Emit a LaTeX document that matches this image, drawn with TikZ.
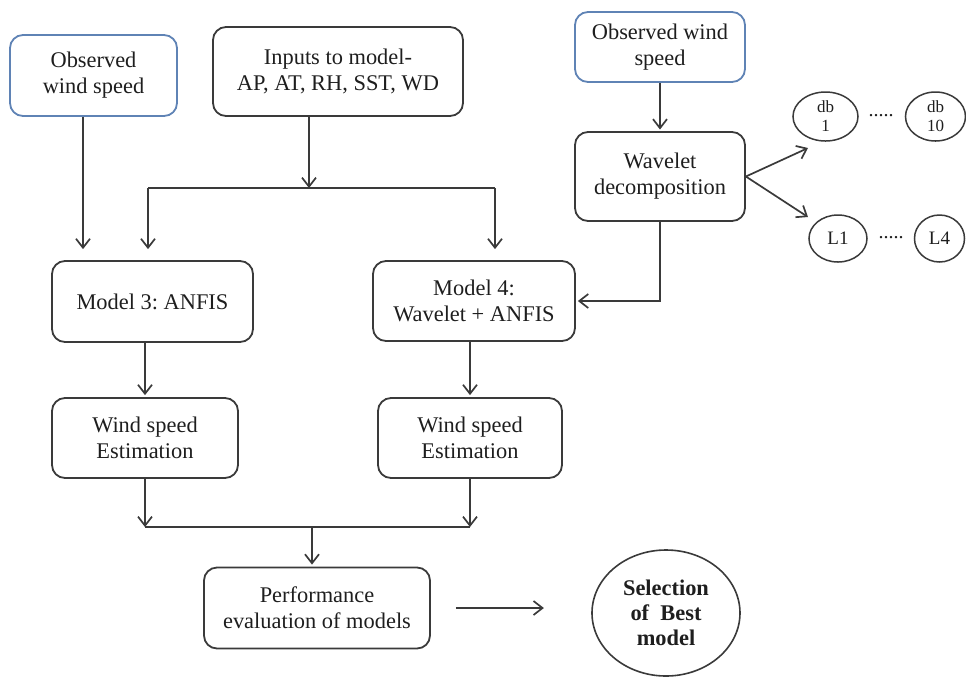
\documentclass[tikz,border=0pt]{standalone}
\usepackage{fontspec}
\setmainfont{Liberation Serif}
\frenchspacing
\usetikzlibrary{arrows.meta,shapes.geometric}
\definecolor{boxline}{HTML}{3A3A3A}
\definecolor{obsline}{HTML}{5F83B5}
\definecolor{ink}{HTML}{1E1E1E}
\begin{document}
\begin{tikzpicture}[x=0.5pt,y=-0.5pt,
  every node/.style={text=ink},
  txt/.style={font=\fontsize{11.2}{13}\selectfont, align=center},
  procbox/.style={txt, draw=boxline, line width=0.9pt, rounded corners=6.5pt, inner sep=0pt},
  obsbox/.style={procbox, draw=obsline},
  leaf/.style={ellipse, draw=boxline, line width=0.75pt, inner sep=0pt, align=center},
  conn/.style={draw=boxline, line width=0.85pt},
  arr/.style={conn, -{Straight Barb[length=4.5pt,width=7pt,line width=0.85pt]}},
]
\useasboundingbox (0,0) rectangle (966,677);

% boxes
\node[obsbox, minimum width=83.5pt, minimum height=40.5pt] (obs1) at (93.5,75.5) {Observed\\wind speed};
\node[procbox, minimum width=125pt, minimum height=44.5pt] (inputs) at (338,71.5) {Inputs to model-\\AP, AT, RH, SST, WD};
\node[obsbox, minimum width=85pt, minimum height=35pt] (obs2) at (660,47) {Observed wind\\speed};
\node[procbox, minimum width=85pt, minimum height=44.5pt] (wave) at (660,176.5) {Wavelet\\decomposition};
\node[procbox, minimum width=100.5pt, minimum height=40.5pt] (m3) at (152.5,301.5) {Model 3: ANFIS};
\node[procbox, minimum width=101pt, minimum height=40pt] (m4) at (474,301) {Model 4:\\Wavelet + ANFIS};
\node[procbox, minimum width=93pt, minimum height=40pt] (wse1) at (145,438) {Wind speed\\Estimation};
\node[procbox, minimum width=92pt, minimum height=40pt] (wse2) at (470,438) {Wind speed\\Estimation};
\node[procbox, minimum width=113pt, minimum height=40.5pt] (perf) at (317,608) {Performance\\evaluation of models};
\node[leaf, line width=0.8pt, minimum width=74pt, minimum height=63pt,
      font=\fontsize{11.2}{12.6}\selectfont\bfseries] (sel) at (666,613) {Selection\\of~~Best\\model};

% wavelet families
\node[leaf, minimum width=32.5pt, minimum height=24.5pt, font=\fontsize{8.5}{9.5}\selectfont] (db1) at (825.5,116.5) {db\\1};
\node[leaf, minimum width=30pt, minimum height=24.5pt, font=\fontsize{8.5}{9.5}\selectfont] (db10) at (935.5,116.5) {db\\10};
\node[leaf, minimum width=29pt, minimum height=23.5pt, font=\fontsize{9.5}{11}\selectfont] (l1) at (838,238.5) {L1};
\node[leaf, minimum width=25pt, minimum height=23.5pt, font=\fontsize{9.5}{11}\selectfont] (l4) at (939.5,238.5) {L4};
\node[font=\fontsize{10}{11}\selectfont] (dotsA) at (881,116) {.....};
\node[font=\fontsize{10}{11}\selectfont] (dotsB) at (891,238) {.....};

% junctions and free ends
\coordinate (jin) at (309,188);
\coordinate (bl) at (148,188);
\coordinate (br) at (495,188);
\coordinate (jout) at (312,527);
\coordinate (tipdb) at (808,148);
\coordinate (tipl) at (808,217);

% top-left feed into model 3
\draw[arr, shorten >=5.5pt] ([xshift=-5.25pt]obs1.south) -- ([xshift=-5.25pt]obs1.south |- m3.north);

% inputs split to both models
\draw[arr] (inputs.south -| jin) -- (jin);
\draw[conn] (bl) -- (br);
\draw[arr, shorten >=5.5pt] (bl) -- (bl |- m3.north);
\draw[arr, shorten >=5.5pt] (br) -- (br |- m4.north);

% wavelet branch
\draw[arr, shorten >=0.8pt] (obs2) -- (wave);
\draw[arr, shorten >=1pt] (wave.south) |- (m4.east);
\draw[arr] (wave.east) -- (tipdb);
\draw[arr] (wave.east) -- (tipl);

% models to estimations
\draw[arr, shorten >=1pt] (wse1.north |- m3.south) -- (wse1.north);
\draw[arr, shorten >=1pt] (wse2.north |- m4.south) -- (wse2.north);

% estimations merge into evaluation
\draw[arr] (wse1.south) -- (wse1.south |- jout);
\draw[arr] (wse2.south) -- (wse2.south |- jout);
\draw[conn] (wse1.south |- jout) -- (wse2.south |- jout);
\draw[arr, shorten >=1pt] (jout) -- (jout |- perf.north);

% evaluation to selection
\draw[arr] ([xshift=12.5pt]perf.east) -- ([xshift=56.5pt]perf.east);
\end{tikzpicture}
\end{document}
